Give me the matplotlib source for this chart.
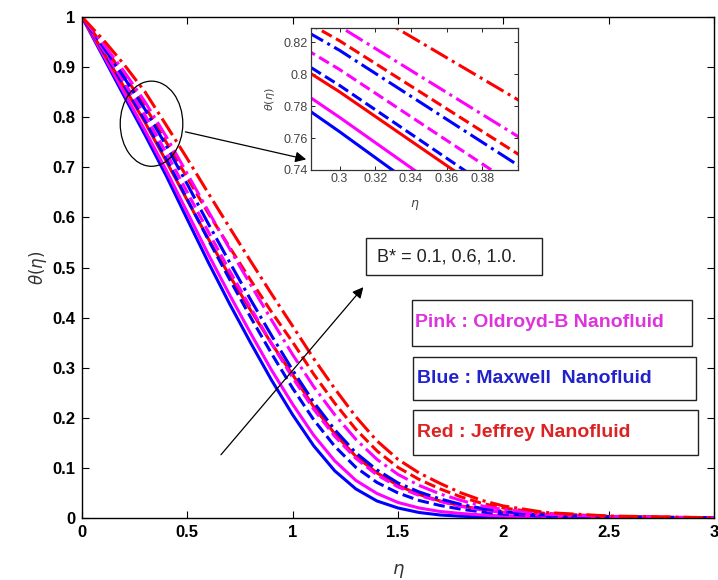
import matplotlib
matplotlib.use("Agg")

import matplotlib.pyplot as plt
from matplotlib.patches import Ellipse, Rectangle

plt.rcParams["font.family"] = ["Liberation Sans", "DejaVu Sans"]
plt.rcParams["mathtext.fontset"] = "dejavusans"

# temperature profiles theta(eta) for B* = 0.1 (solid), 0.6 (dashed), 1.0 (dash-dot)
eta = [0.0, 0.1, 0.2, 0.3, 0.4, 0.5, 0.6, 0.7, 0.8, 0.9, 1.0, 1.1, 1.2,
       1.3, 1.4, 1.5, 1.6, 1.7, 1.8, 1.9, 2.0, 2.2, 2.5, 3.0]

maxwell_b01 = [1.000, 0.921, 0.842, 0.764, 0.683, 0.596, 0.510, 0.428, 0.350, 0.275, 0.206, 0.144, 0.094,
               0.058, 0.034, 0.020, 0.011, 0.006, 0.0035, 0.002, 0.0012, 0.0004, 0.0001, 0.0]
maxwell_b06 = [1.000, 0.933, 0.863, 0.793, 0.717, 0.636, 0.555, 0.477, 0.401, 0.328, 0.259, 0.196, 0.143,
               0.101, 0.071, 0.050, 0.035, 0.025, 0.0175, 0.012, 0.008, 0.0036, 0.0013, 0.0002]
maxwell_b10 = [1.000, 0.941, 0.879, 0.815, 0.743, 0.666, 0.587, 0.511, 0.436, 0.364, 0.295, 0.231, 0.176,
               0.130, 0.096, 0.070, 0.052, 0.038, 0.027, 0.019, 0.013, 0.0057, 0.0021, 0.0003]

oldroyd_b01 = [1.000, 0.925, 0.849, 0.773, 0.694, 0.610, 0.526, 0.446, 0.369, 0.295, 0.227, 0.165, 0.114,
               0.075, 0.049, 0.031, 0.020, 0.013, 0.009, 0.006, 0.004, 0.0017, 0.0006, 0.0001]
oldroyd_b06 = [1.000, 0.936, 0.870, 0.803, 0.729, 0.650, 0.571, 0.494, 0.420, 0.348, 0.280, 0.217, 0.163,
               0.119, 0.086, 0.062, 0.045, 0.033, 0.023, 0.016, 0.011, 0.0049, 0.0017, 0.0002]
oldroyd_b10 = [1.000, 0.947, 0.891, 0.830, 0.761, 0.687, 0.612, 0.538, 0.466, 0.395, 0.326, 0.262, 0.206,
               0.157, 0.117, 0.087, 0.065, 0.048, 0.035, 0.024, 0.017, 0.0076, 0.0028, 0.0003]

jeffrey_b01 = [1.000, 0.931, 0.860, 0.789, 0.712, 0.634, 0.557, 0.484, 0.415, 0.348, 0.286, 0.222, 0.168,
               0.123, 0.090, 0.065, 0.047, 0.034, 0.024, 0.017, 0.0115, 0.0052, 0.0019, 0.0002]
jeffrey_b06 = [1.000, 0.943, 0.884, 0.821, 0.750, 0.679, 0.608, 0.541, 0.475, 0.411, 0.351, 0.287, 0.229,
               0.177, 0.134, 0.101, 0.077, 0.058, 0.042, 0.029, 0.020, 0.0091, 0.0033, 0.0004]
jeffrey_b10 = [1.000, 0.955, 0.905, 0.850, 0.784, 0.717, 0.648, 0.580, 0.513, 0.447, 0.383, 0.318, 0.258,
               0.202, 0.154, 0.117, 0.090, 0.069, 0.050, 0.035, 0.024, 0.011, 0.004, 0.0005]

x_ticks = [0, 0.5, 1, 1.5, 2, 2.5, 3]
x_tick_labels = ["0", "0.5", "1", "1.5", "2", "2.5", "3"]
y_ticks = [0, 0.1, 0.2, 0.3, 0.4, 0.5, 0.6, 0.7, 0.8, 0.9, 1]
y_tick_labels = ["0", "0.1", "0.2", "0.3", "0.4", "0.5", "0.6", "0.7", "0.8", "0.9", "1"]
inset_x_ticks = [0.3, 0.32, 0.34, 0.36, 0.38]
inset_x_labels = ["0.3", "0.32", "0.34", "0.36", "0.38"]
inset_y_ticks = [0.74, 0.76, 0.78, 0.80, 0.82]
inset_y_labels = ["0.74", "0.76", "0.78", "0.8", "0.82"]

BLUE, PINK, RED = "#0000ff", "#ff00ff", "#ff0000"
curves = [
    (maxwell_b01, BLUE, "-"), (oldroyd_b01, PINK, "-"), (jeffrey_b01, RED, "-"),
    (maxwell_b06, BLUE, "--"), (oldroyd_b06, PINK, "--"), (jeffrey_b06, RED, "--"),
    (maxwell_b10, BLUE, "-."), (oldroyd_b10, PINK, "-."), (jeffrey_b10, RED, "-."),
]

W, H = 718, 580


def fig_rect(x0, y0, x1, y1):
    """Pixel box (top-left origin) -> figure fraction [left, bottom, width, height]."""
    return [x0 / W, 1 - y1 / H, (x1 - x0) / W, (y1 - y0) / H]


fig = plt.figure(figsize=(W / 100, H / 100), dpi=100)
ax = fig.add_axes(fig_rect(82, 17, 714, 518))

for theta, color, ls in curves:
    ax.plot(eta, theta, color=color, linestyle=ls, linewidth=2.2)

ax.set_xlim(0, 3)
ax.set_ylim(0, 1)
ax.set_xticks(x_ticks)
ax.set_xticklabels(x_tick_labels, fontweight="bold", fontsize=12)
ax.set_yticks(y_ticks)
ax.set_yticklabels(y_tick_labels, fontweight="bold", fontsize=12)
ax.tick_params(direction="in", top=True, right=True, length=5, width=0.8, pad=5)
for sp in ax.spines.values():
    sp.set_linewidth(1.0)
ax.set_xlabel(r"$\eta$", fontsize=13, color="#333333", labelpad=16)
ax.set_ylabel(r"$\theta(\eta)$", fontsize=12, color="#333333", labelpad=2)

# zoom marker and arrows
ax.add_patch(Ellipse((0.330, 0.787), 0.297, 0.170, fill=False, lw=0.9, color="k", zorder=5))
ax.annotate("", xy=(1.077, 0.7146), xytext=(0.478, 0.772),
            arrowprops=dict(arrowstyle="-|>", color="k", lw=0.9, mutation_scale=16), zorder=6)
ax.annotate("", xy=(1.344, 0.465), xytext=(0.651, 0.122),
            arrowprops=dict(arrowstyle="-|>", color="k", lw=0.9, mutation_scale=16), zorder=6)

# inset
axi = fig.add_axes(fig_rect(311, 28, 518, 170))
for theta, color, ls in curves:
    axi.plot(eta, theta, color=color, linestyle=ls, linewidth=2.2)
axi.set_xlim(0.284, 0.40)
axi.set_ylim(0.74, 0.829)
axi.set_xticks(inset_x_ticks)
axi.set_xticklabels(inset_x_labels, fontsize=9, color="#444444")
axi.set_yticks(inset_y_ticks)
axi.set_yticklabels(inset_y_labels, fontsize=9, color="#444444")
axi.tick_params(direction="in", top=True, right=True, length=3, width=0.6, pad=2)
for sp in axi.spines.values():
    sp.set_linewidth(0.9)
    sp.set_color("#333333")
axi.set_xlabel(r"$\eta$", fontsize=9, color="#444444")
axi.xaxis.set_label_coords(0.5, -0.2)
axi.set_ylabel(r"$\theta(\eta)$", fontsize=8, color="#444444")
axi.yaxis.set_label_coords(-0.165, 0.5)


def text_box(x0, y0, x1, y1, tx, label, color, weight, size):
    fig.add_artist(Rectangle((x0 / W, 1 - y1 / H), (x1 - x0) / W, (y1 - y0) / H,
                             transform=fig.transFigure, facecolor="white",
                             edgecolor="#222222", lw=1.0, zorder=7))
    fig.text(tx / W, 1 - (y0 + y1) / 2 / H, label, color=color, fontweight=weight,
             fontsize=size, ha="left", va="center", zorder=8)


text_box(366, 238, 542, 275, 377, "B* = 0.1, 0.6, 1.0.", "#222222", "normal", 13)
text_box(412, 300, 692, 346, 415, "Pink : Oldroyd-B Nanofluid", "#dd33dd", "bold", 14)
text_box(413, 357, 696, 400, 417, "Blue : Maxwell  Nanofluid", "#2222cc", "bold", 14)
text_box(413, 410, 698, 455, 417, "Red : Jeffrey Nanofluid", "#dd2222", "bold", 14)

fig.savefig("out.png", dpi=100)
